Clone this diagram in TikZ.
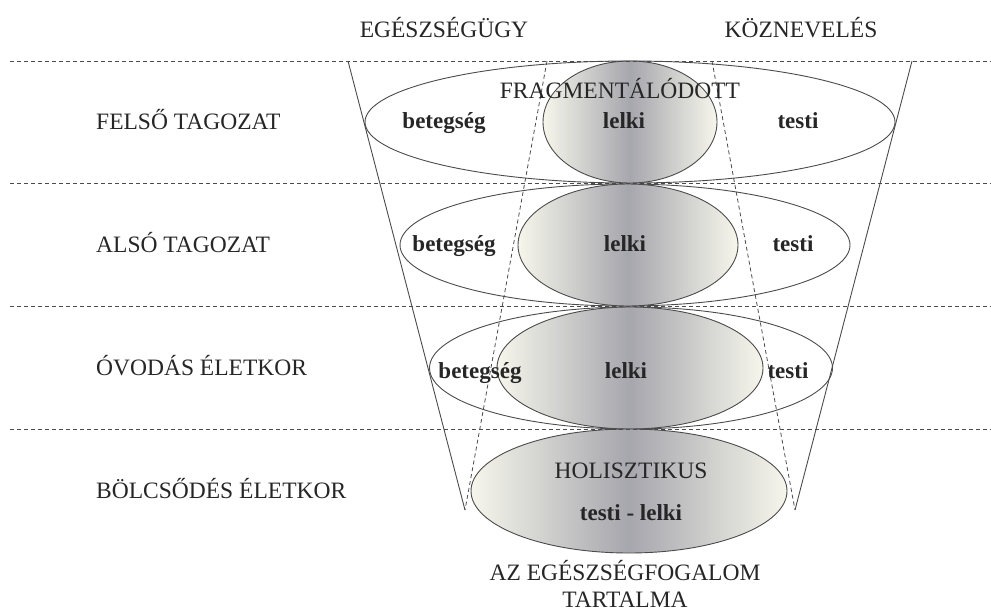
\documentclass[tikz,border=0pt]{standalone}
\usepackage{fontspec}
\setmainfont{Liberation Serif}
\usetikzlibrary{positioning, shapes.geometric}
\definecolor{linegray}{RGB}{75,75,75}
\definecolor{edgetint}{RGB}{246,246,236}
\definecolor{coregray}{RGB}{166,166,173}
\tikzset{
  agetext/.style={font=\fontsize{23.5}{28}\selectfont, text=black!85, inner sep=0pt, anchor=base},
  word/.style={font=\fontsize{23}{28}\selectfont\bfseries, text=black!85, inner sep=0pt, anchor=base},
  zone/.style={draw=linegray, ellipse, inner sep=0pt, line width=0.9pt},
  core/.style={zone, left color=edgetint, right color=edgetint, middle color=coregray},
  border/.style={draw=linegray, line width=0.8pt, dash pattern=on 4pt off 3pt},
  funnel/.style={draw=linegray, line width=0.9pt},
}

\begin{document}
\begin{tikzpicture}[x=1pt, y=-1pt]
  \useasboundingbox (0,0) rectangle (991,613);

  % ellipses of the four age levels
  \node[zone, minimum width=530pt, minimum height=122pt] (outer1) at (630,122) {};
  \node[core, minimum width=174pt, minimum height=122pt] (inner1) at (630,122) {};
  \node[zone, minimum width=450pt, minimum height=122pt] (outer2) at (625,245) {};
  \node[core, minimum width=220pt, minimum height=122pt] (inner2) at (628,245) {};
  \node[zone, minimum width=403pt, minimum height=122pt] (outer3) at (631,368) {};
  \node[core, minimum width=266pt, minimum height=122pt] (inner3) at (630,368) {};
  \node[core, minimum width=316pt, minimum height=124pt] (holist) at (629,491) {};

  % funnel
  \coordinate (solidL) at (348,61);
  \coordinate (solidR) at (912,61);
  \coordinate (dashL) at (547,61);
  \coordinate (dashR) at (712,61);
  \coordinate (tipL) at (465,510);
  \coordinate (tipR) at (795,510);
  \draw[funnel] (solidL) -- (tipL);
  \draw[funnel] (solidR) -- (tipR);
  \draw[border] (dashL) -- (tipL);
  \draw[border] (dashR) -- (tipR);

  % level borders
  \coordinate (b1) at (10,61);   \coordinate (e1) at (991,61);
  \coordinate (b2) at (10,183);  \coordinate (e2) at (991,183);
  \coordinate (b3) at (10,306);  \coordinate (e3) at (991,306);
  \coordinate (b4) at (10,429);  \coordinate (e4) at (991,429);
  \draw[border] (b1) -- (e1);
  \draw[border] (b2) -- (e2);
  \draw[border] (b3) -- (e3);
  \draw[border] (b4) -- (e4);

  % headings
  \node[agetext] (health) at (444,37) {EGÉSZSÉGÜGY};
  \node[agetext] (school) at (801,37) {KÖZNEVELÉS};

  % age levels
  \node[agetext, anchor=base west] (upper) at (96,129) {FELSŐ TAGOZAT};
  \node[agetext, anchor=base west] (lower) at (96,252) {ALSÓ TAGOZAT};
  \node[agetext, anchor=base west] (kinder) at (96,375) {ÓVODÁS ÉLETKOR};
  \node[agetext, anchor=base west] (nursery) at (96,498) {BÖLCSŐDÉS ÉLETKOR};

  % contents
  \node[agetext] (frag) at (620,98) {FRAGMENTÁLÓDOTT};
  \node[word] (ill1) at (444,128) {betegség};
  \node[word] (soul1) at (624,128) {lelki};
  \node[word] (body1) at (798,128) {testi};
  \node[word] (ill2) at (454,251) {betegség};
  \node[word] (soul2) at (625,251) {lelki};
  \node[word] (body2) at (793,251) {testi};
  \node[word] (ill3) at (480,378) {betegség};
  \node[word] (soul3) at (626,378) {lelki};
  \node[word] (body3) at (788,378) {testi};
  \node[agetext] (holtext) at (631,478) {HOLISZTIKUS};
  \node[word, below=42pt of holtext.base, anchor=base] (both) {testi - lelki};

  % caption
  \node[agetext] (title) at (625,580) {AZ EGÉSZSÉGFOGALOM};
  \node[agetext, below=27pt of title.base, anchor=base] (title2) {TARTALMA};
\end{tikzpicture}
\end{document}
